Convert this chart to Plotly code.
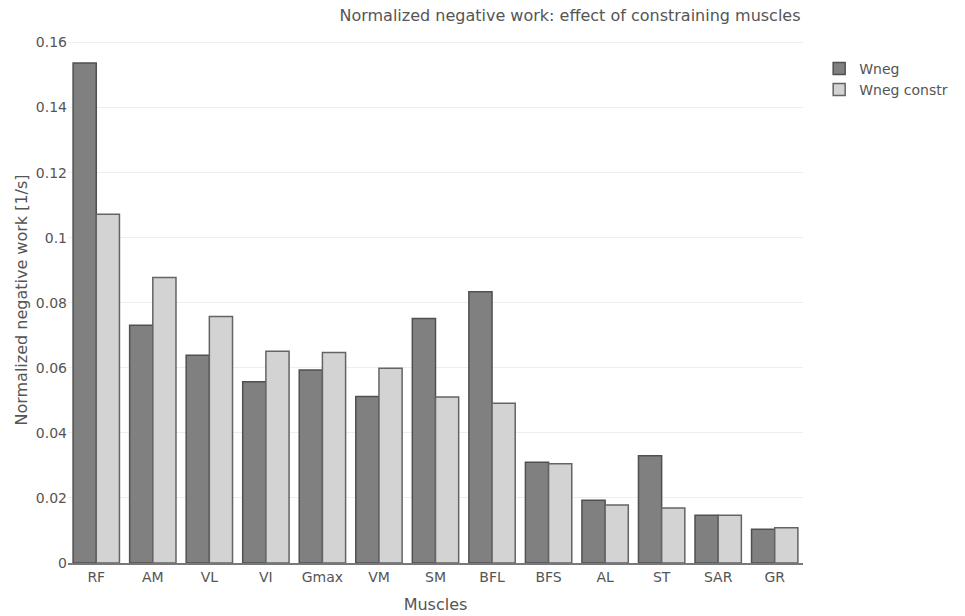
import plotly.graph_objects as go

muscles = ["RF", "AM", "VL", "VI", "Gmax", "VM", "SM", "BFL", "BFS", "AL", "ST", "SAR", "GR"]
wneg = [0.1537, 0.0731, 0.0639, 0.0557, 0.0593, 0.0512, 0.0752, 0.0834, 0.0310, 0.0193, 0.0330, 0.0147, 0.0104]
wneg_constr = [0.1072, 0.0878, 0.0758, 0.0651, 0.0647, 0.0599, 0.0510, 0.0491, 0.0305, 0.0178, 0.0169, 0.0147, 0.0108]

FONT = "DejaVu Sans, Verdana, sans-serif"

fig = go.Figure()
fig.add_trace(go.Bar(
    name="Wneg", x=muscles, y=wneg,
    marker=dict(color="rgb(128,128,128)", line=dict(color="rgb(80,80,80)", width=1.5)),
))
fig.add_trace(go.Bar(
    name="Wneg constr", x=muscles, y=wneg_constr,
    marker=dict(color="rgb(211,211,211)", line=dict(color="rgb(100,100,100)", width=1.5)),
))

fig.update_layout(
    width=965, height=616,
    barmode="group", bargap=0.18,
    paper_bgcolor="white", plot_bgcolor="white",
    font=dict(family=FONT, color="#555", size=14),
    title=dict(text="Normalized negative work: effect of constraining muscles",
               x=570 / 965, xanchor="center", xref="container",
               y=0.975, yanchor="middle", font=dict(size=16, family=FONT)),
    margin=dict(l=68, r=160, t=37, b=53),
    legend=dict(x=1.022, y=0.97, font=dict(size=14, family=FONT)),
    xaxis=dict(title=dict(text="Muscles", font=dict(size=16)),
               automargin=False,
               showline=True, linecolor="rgb(120,120,120)", linewidth=1.5,
               tickfont=dict(size=14)),
    yaxis=dict(title=dict(text="Normalized negative work [1/s]", font=dict(size=16), standoff=4),
               automargin=False,
               range=[0, 0.1617], dtick=0.02, tickformat="~g",
               gridcolor="#eee", zeroline=False, tickfont=dict(size=14)),
)

fig.write_html("out.html")
